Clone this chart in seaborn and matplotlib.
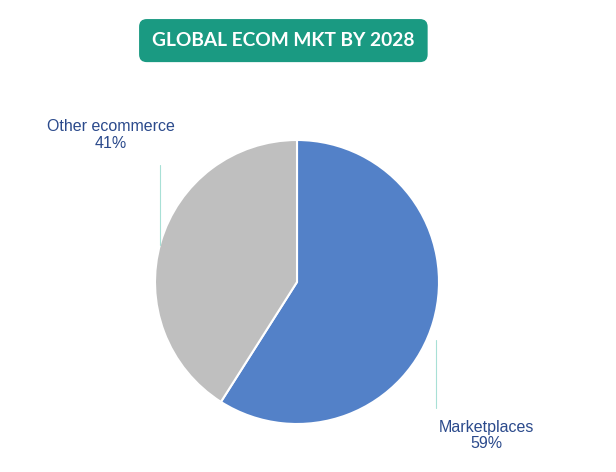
import matplotlib
matplotlib.use('Agg')
from matplotlib import pyplot as plt
import seaborn as sns

# chart data
labels = ['Marketplaces', 'Other ecommerce']
shares = [59, 41]
colors = ['#5381c8', '#bfbfbf']
title = 'GLOBAL ECOM MKT BY 2028'

sns.set_theme(style='white')
plt.rcParams['font.family'] = ['Liberation Sans', 'DejaVu Sans']

fig = plt.figure(figsize=(6.16, 4.72), dpi=100)
ax = fig.add_axes([0, 0, 1, 1])

# pie, clockwise from the top
ax.pie(shares, colors=colors, startangle=90, counterclock=False, radius=1,
       wedgeprops={'edgecolor': 'white', 'linewidth': 1.5})

# keep 1 unit = 142 px on both axes
ax.set_xlim(-297 / 142, (616 - 297) / 142)
ax.set_ylim(-190 / 142, 282 / 142)
ax.set_aspect('auto')
ax.axis('off')

# leader lines and labels
line_col = '#a8e0d6'
text_col = '#2b4a8c'
ax.plot([-0.965, -0.965], [0.26, 0.824], color=line_col, lw=0.8)
ax.plot([0.979, 0.979], [-0.408, -0.887], color=line_col, lw=0.8)

ax.text(-1.31, 1.035, '{}\n{}%'.format(labels[1], shares[1]), ha='center', va='center',
        fontsize=11.5, color=text_col, linespacing=1.12)
ax.text(1.331, -1.08, '{}\n{}%'.format(labels[0], shares[0]), ha='center', va='center',
        fontsize=11.5, color=text_col, linespacing=1.12)

# title badge
fig.text(0.460, 0.914, title, ha='center', va='center', fontsize=13.8,
         fontweight='bold', family=['Lato', 'DejaVu Sans'], color='white',
         bbox=dict(boxstyle='round,pad=0.68,rounding_size=0.4',
                   facecolor='#1a9a82', edgecolor='none'))

fig.savefig('out.png', dpi=100)
